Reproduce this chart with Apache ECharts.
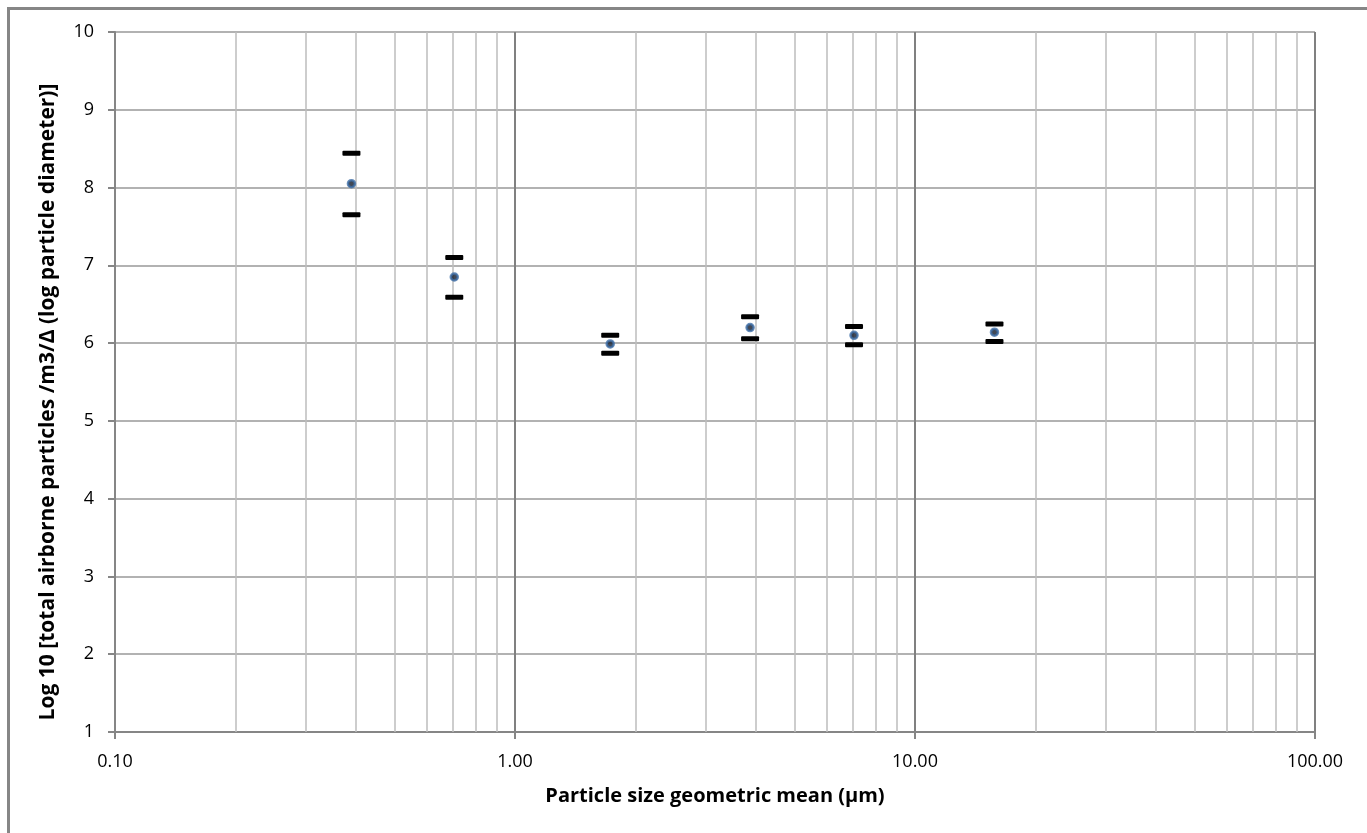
<!DOCTYPE html>
<html>
<head>
<meta charset="utf-8">
<script src="https://cdn.jsdelivr.net/npm/echarts@6/dist/echarts.min.js"></script>
<style>
html,body{margin:0;padding:0;background:#fff;}
#c{width:1367px;height:833px;}
</style>
</head>
<body>
<div id="c"></div>
<script>
// Data
const sizes = [0.39, 0.705, 1.73, 3.87, 7.04, 15.8];
const means = [8.05, 6.85, 5.99, 6.20, 6.10, 6.14];
const upper = [8.44, 7.10, 6.10, 6.34, 6.215, 6.245];
const lower = [7.65, 6.59, 5.87, 6.055, 5.98, 6.02];
const minorGridX = [0.2,0.3,0.4,0.5,0.6,0.7,0.8,0.9,2,3,4,5,6,7,8,9,20,30,40,50,60,70,80,90];
const xTitle = 'Particle size geometric mean (µm)';
const yTitle = 'Log 10 [total airborne particles /m3/Δ (log particle diameter)]';

const FONT = '"Open Sans", "Noto Sans", sans-serif';
const chart = echarts.init(document.getElementById('c'));

const pointData = sizes.map((s, i) => [s, means[i]]);
const errData = sizes.map((s, i) => [s, lower[i], upper[i]]);

chart.setOption({
  animation: false,
  backgroundColor: '#fff',
  graphic: [{
    type: 'rect',
    left: 6, top: 6,
    shape: { x: 0, y: 0, width: 1400, height: 900 },
    style: { fill: 'none', stroke: '#868686', lineWidth: 3 },
    silent: true, z: 0
  }],
  grid: { left: 115, right: 52, top: 32, bottom: 101 },
  xAxis: {
    type: 'log', logBase: 10, min: 0.1, max: 100,
    name: xTitle, nameLocation: 'middle', nameGap: 54,
    nameTextStyle: { fontFamily: FONT, fontSize: 20, fontWeight: 'bold', color: '#000' },
    axisLine: { show: true, lineStyle: { color: '#868686', width: 2 } },
    axisTick: { show: true, length: 7, lineStyle: { color: '#868686', width: 2 } },
    axisLabel: {
      fontFamily: FONT, fontSize: 18, color: '#000', margin: 21,
      formatter: v => Number(v).toFixed(2)
    },
    splitLine: { show: true, lineStyle: { color: '#808080', width: 2 } }
  },
  yAxis: {
    type: 'value', min: 1, max: 10, interval: 1,
    name: yTitle, nameLocation: 'middle', nameGap: 56,
    nameTextStyle: { fontFamily: FONT, fontSize: 21, fontWeight: 'bold', color: '#000', padding: [0, 40, 0, 0] },
    axisLine: { show: true, lineStyle: { color: '#868686', width: 2 } },
    axisTick: { show: true, length: 7, lineStyle: { color: '#868686', width: 2 } },
    axisLabel: { fontFamily: FONT, fontSize: 18, color: '#000', margin: 21 },
    splitLine: { show: true, lineStyle: { color: '#999999', width: 1.5 } }
  },
  series: [
    {
      type: 'line', data: [], silent: true, z: 1,
      markLine: {
        silent: true, symbol: 'none', animation: false, z: 1,
        label: { show: false },
        lineStyle: { color: '#bdbdbd', width: 1.5, type: 'solid' },
        emphasis: { disabled: true },
        data: minorGridX.map(v => ({ xAxis: v }))
      }
    },
    {
      type: 'custom', z: 6,
      data: errData,
      renderItem: function (params, api) {
        const x = api.value(0);
        const lo = api.coord([x, api.value(1)]);
        const hi = api.coord([x, api.value(2)]);
        const w = 18, h = 5;
        return {
          type: 'group',
          children: [
            { type: 'rect', shape: { x: hi[0] - w / 2, y: hi[1] - h / 2, width: w, height: h, r: 1 }, style: { fill: '#000' } },
            { type: 'rect', shape: { x: lo[0] - w / 2, y: lo[1] - h / 2, width: w, height: h, r: 1 }, style: { fill: '#000' } }
          ]
        };
      }
    },
    {
      type: 'scatter', z: 7,
      data: pointData,
      symbol: 'circle', symbolSize: 7,
      itemStyle: { color: '#111a2a', borderColor: '#3d6ea8', borderWidth: 2.5 }
    }
  ]
});
</script>
</body>
</html>
